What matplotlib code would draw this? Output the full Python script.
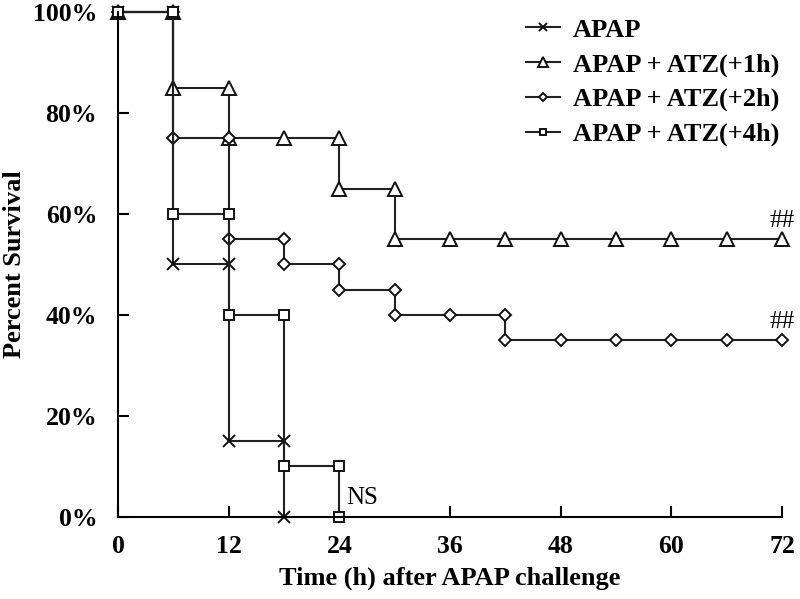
import matplotlib
matplotlib.use("Agg")
import matplotlib.pyplot as plt
from matplotlib.ticker import FuncFormatter

plt.rcParams["font.family"] = "Liberation Serif"

# step curves: repeated x values mark the drops
apap_t = [0, 6, 6, 12, 12, 18, 18]
apap_s = [100, 100, 50, 50, 15, 15, 0]

atz1_t = [0, 6, 6, 12, 12, 18, 24, 24, 30, 30, 36, 42, 48, 54, 60, 66, 72]
atz1_s = [100, 100, 85, 85, 75, 75, 75, 65, 65, 55, 55, 55, 55, 55, 55, 55, 55]

atz2_t = [0, 6, 6, 12, 12, 18, 18, 24, 24, 30, 30, 36, 42, 42, 48, 54, 60, 66, 72]
atz2_s = [100, 100, 75, 75, 55, 55, 50, 50, 45, 45, 40, 40, 40, 35, 35, 35, 35, 35, 35]

atz4_t = [0, 6, 6, 12, 12, 18, 18, 24, 24]
atz4_s = [100, 100, 60, 60, 40, 40, 10, 10, 0]

series = [
    ("APAP", apap_t, apap_s, "x", 9),
    ("APAP + ATZ(+1h)", atz1_t, atz1_s, "^", 10),
    ("APAP + ATZ(+2h)", atz2_t, atz2_s, "D", 6),
    ("APAP + ATZ(+4h)", atz4_t, atz4_s, "s", 6.5),
]

x_ticks = [0, 12, 24, 36, 48, 60, 72]
y_ticks = [0, 20, 40, 60, 80, 100]

fig = plt.figure(figsize=(8, 5.99), dpi=100)
ax = fig.add_axes([0.1475, 0.137, 0.83, 0.843])

for label, t, s, mk, ms in series:
    ax.plot(t, s, color="#222222", lw=1.5, marker=mk, ms=ms,
            mfc="white", mec="#111111", mew=1.4, label=label, clip_on=False)

ax.set_xlim(0, 72)
ax.set_ylim(0, 100)
ax.set_xticks(x_ticks)
ax.set_yticks(y_ticks)
ax.yaxis.set_major_formatter(FuncFormatter(lambda v, p: f"{v:.0f}%"))
ax.tick_params(direction="in", length=8, width=1.5, labelsize=18.5)
ax.tick_params(axis="x", pad=13)
ax.tick_params(axis="y", pad=15)
for lab in ax.get_xticklabels() + ax.get_yticklabels():
    lab.set_fontweight("bold")
for side in ["top", "right"]:
    ax.spines[side].set_visible(False)
for side in ["left", "bottom"]:
    ax.spines[side].set_linewidth(1.5)

ax.set_xlabel("Time (h) after APAP challenge", fontsize=19, fontweight="bold", labelpad=6)
ax.set_ylabel("Percent Survival", fontsize=19, fontweight="bold", labelpad=5)

ax.text(72, 56.5, "##", fontsize=18, ha="center", va="bottom")
ax.text(72, 36.5, "##", fontsize=18, ha="center", va="bottom")
ax.text(24.8, 1.5, "NS", fontsize=18, ha="left", va="bottom")

leg = ax.legend(loc="upper right", bbox_to_anchor=(1.032, 1.035), frameon=False,
                prop={"size": 19, "weight": "bold"}, handlelength=1.3,
                markerscale=0.7, labelspacing=0.42, handletextpad=0.5)

fig.savefig("out.png", dpi=100)
